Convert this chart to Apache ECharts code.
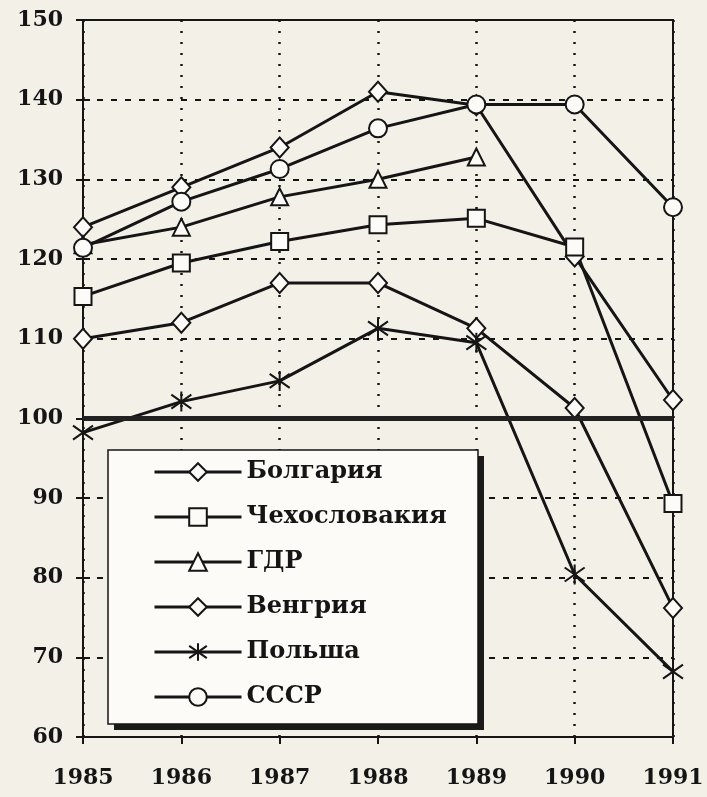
<!DOCTYPE html>
<html>
<head>
<meta charset="utf-8">
<script src="https://cdn.jsdelivr.net/npm/echarts@6/dist/echarts.min.js"></script>
<style>
html,body{margin:0;padding:0;background:#f3f0e8;}
#c{width:707px;height:797px;}
</style>
</head>
<body>
<div id="c"></div>
<script>
var years = ['1985','1986','1987','1988','1989','1990','1991'];
var yTicks = {min: 60, max: 150, interval: 10};
var bulgaria = [124, 129, 134, 141, 139.3, 120.3, 102.3];
var czech    = [115.3, 119.5, 122.2, 124.3, 125.1, 121.5, 89.3];
var gdr      = [121.8, 124, 127.8, 130, 132.8, null, null];
var hungary  = [110, 112, 117, 117, 111.3, 101.3, 76.2];
var poland   = [98.2, 102.1, 104.7, 111.3, 109.5, 80.4, 68.2];
var ussr     = [121.4, 127.2, 131.3, 136.4, 139.4, 139.4, 126.5];
var names = ['Болгария','Чехословакия','ГДР','Венгрия','Польша','СССР'];

var FONT = 'DejaVu Serif';
var INK = '#151515';
var PAPER = '#fcfbf7';
var star = 'path://M10,0L10,20M1,3L19,17M1,17L19,3';

function mk(name, data, symbol, size) {
  return {
    name: name, type: 'line', data: data,
    symbol: symbol, symbolSize: size, showSymbol: true,
    lineStyle: {color: INK, width: 3},
    itemStyle: {color: PAPER, borderColor: INK, borderWidth: 2},
    connectNulls: false,
    z: 3
  };
}

var series = [
  mk(names[0], bulgaria, 'diamond', [18, 20]),
  mk(names[1], czech, 'rect', 17),
  mk(names[2], gdr, 'triangle', 17),
  mk(names[3], hungary, 'diamond', [18, 20]),
  mk(names[4], poland, star, 20),
  mk(names[5], ussr, 'circle', 18)
];
series[0].markLine = {
  silent: true, symbol: 'none', label: {show: false},
  lineStyle: {color: '#222', width: 5, type: 'solid'},
  data: [{yAxis: 100}]
};

var chart = echarts.init(document.getElementById('c'));
chart.setOption({
  animation: false,
  backgroundColor: '#f3f0e8',
  grid: {left: 83, right: 34, top: 20, bottom: 60, show: true, borderColor: INK, borderWidth: 2, backgroundColor: 'transparent'},
  xAxis: {
    type: 'category', data: years, boundaryGap: false,
    axisLine: {lineStyle: {color: INK, width: 2}},
    axisTick: {show: true, length: 7, lineStyle: {color: INK, width: 2}},
    axisLabel: {color: INK, fontFamily: FONT, fontWeight: 'bold', fontSize: 22, margin: 30},
    splitLine: {show: true, lineStyle: {color: INK, width: 2.5, type: [2, 9]}}
  },
  yAxis: [{
    type: 'value', min: yTicks.min, max: yTicks.max, interval: yTicks.interval,
    axisLine: {show: true, lineStyle: {color: INK, width: 2}},
    axisTick: {show: true, length: 7, lineStyle: {color: INK, width: 2}},
    axisLabel: {color: INK, fontFamily: FONT, fontWeight: 'bold', fontSize: 22, margin: 20},
    splitLine: {show: true, lineStyle: {color: INK, width: 2, type: [6, 8]}}
  }, {
    type: 'value', position: 'left', min: yTicks.min, max: yTicks.max, interval: yTicks.interval,
    axisLine: {show: false},
    axisTick: {show: true, inside: true, length: 7, lineStyle: {color: INK, width: 2}},
    axisLabel: {show: false}, splitLine: {show: false}
  }],
  graphic: [
    {type: 'rect', z: 10, silent: true, shape: {x: 114, y: 456, width: 370, height: 274}, style: {fill: '#1a1a1a'}},
    {type: 'rect', z: 11, silent: true, shape: {x: 108, y: 450, width: 370, height: 274}, style: {fill: PAPER, stroke: INK, lineWidth: 1.5}}
  ],
  legend: {
    data: names, z: 20,
    orient: 'vertical', left: 108, top: 450,
    itemWidth: 87, itemHeight: 22, itemGap: 21,
    padding: [10, 20, 16, 45],
    lineStyle: {width: 3},
    textStyle: {color: INK, fontFamily: FONT, fontWeight: 'bold', fontSize: 24, lineHeight: 24},
    selectedMode: false
  },
  series: series
});
</script>
</body>
</html>
